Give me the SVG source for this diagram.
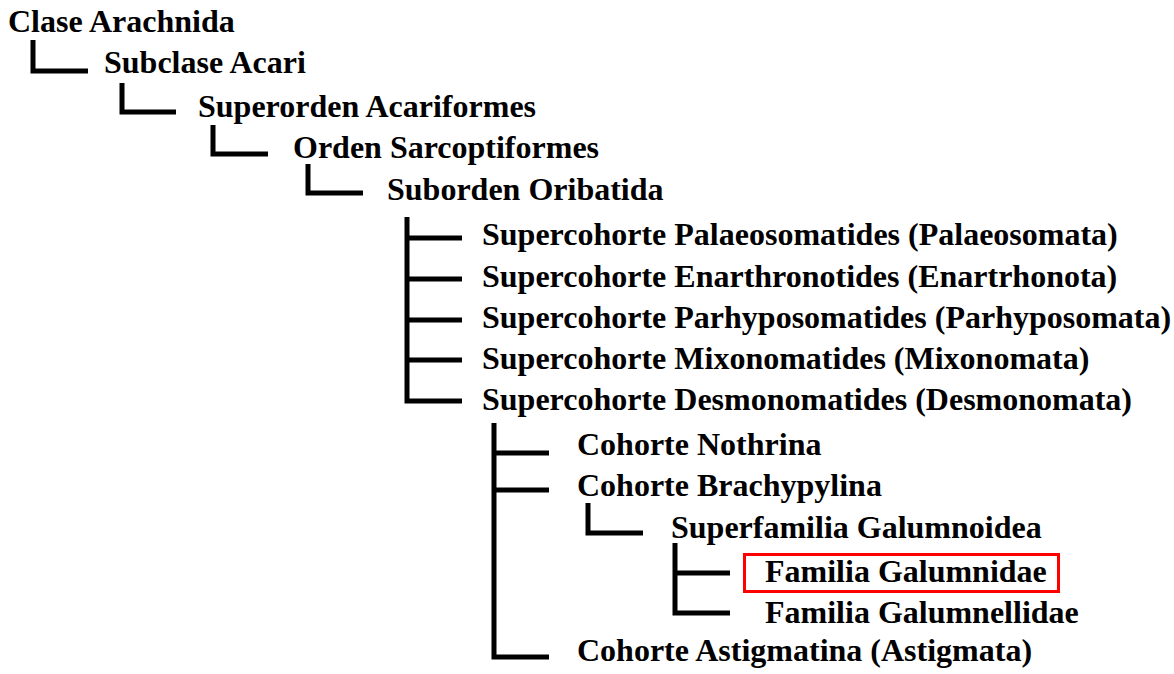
<svg xmlns="http://www.w3.org/2000/svg" width="1174" height="674" viewBox="0 0 1174 674">
<style>
.t{font-family:"Liberation Serif","Times New Roman",serif;font-weight:bold;font-size:32px;fill:#000}
.c{fill:none;stroke:#000;stroke-width:5;stroke-linejoin:miter;stroke-linecap:butt}
.hl{fill:none;stroke:#ff0000;stroke-width:3}
</style>
<rect width="1174" height="674" fill="#fff"/>
<g id="connectors">
<path class="c" d="M33,40 V71 H88"/>
<path class="c" d="M122,83 V112 H176"/>
<path class="c" d="M213,125 V154 H268"/>
<path class="c" d="M308,164 V193 H363"/>
<path class="c" d="M407,217 V401 H462 M407,238 H462 M407,279 H462 M407,320 H462 M407,360 H462"/>
<path class="c" d="M494,423 V657 H549 M494,453 H549 M494,490 H549"/>
<path class="c" d="M588,503 V533 H643"/>
<path class="c" d="M675,543 V613 H730 M675,573 H730"/>
</g>
<g id="n-clase"><text class="t" x="8" y="32">Clase Arachnida</text></g>
<g id="n-subclase"><text class="t" x="104" y="73">Subclase Acari</text></g>
<g id="n-superorden"><text class="t" x="198" y="117">Superorden Acariformes</text></g>
<g id="n-orden"><text class="t" x="293" y="158">Orden Sarcoptiformes</text></g>
<g id="n-suborden"><text class="t" x="387" y="200">Suborden Oribatida</text></g>
<g id="n-palaeo"><text class="t" x="482" y="245">Supercohorte Palaeosomatides (Palaeosomata)</text></g>
<g id="n-enarth"><text class="t" x="482" y="287">Supercohorte Enarthronotides (Enartrhonota)</text></g>
<g id="n-parhy"><text class="t" x="482" y="328">Supercohorte Parhyposomatides (Parhyposomata)</text></g>
<g id="n-mixo"><text class="t" x="482" y="369">Supercohorte Mixonomatides (Mixonomata)</text></g>
<g id="n-desmo"><text class="t" x="482" y="410">Supercohorte Desmonomatides (Desmonomata)</text></g>
<g id="n-nothrina"><text class="t" x="577" y="455">Cohorte Nothrina</text></g>
<g id="n-brachy"><text class="t" x="577" y="496">Cohorte Brachypylina</text></g>
<g id="n-galumnoidea"><text class="t" x="671" y="538">Superfamilia Galumnoidea</text></g>
<g id="n-galumnidae"><rect class="hl" x="744.5" y="554.5" width="314" height="37"/><text class="t" x="765" y="582">Familia Galumnidae</text></g>
<g id="n-galumnellidae"><text class="t" x="765" y="623">Familia Galumnellidae</text></g>
<g id="n-astig"><text class="t" x="577" y="661">Cohorte Astigmatina (Astigmata)</text></g>
</svg>
